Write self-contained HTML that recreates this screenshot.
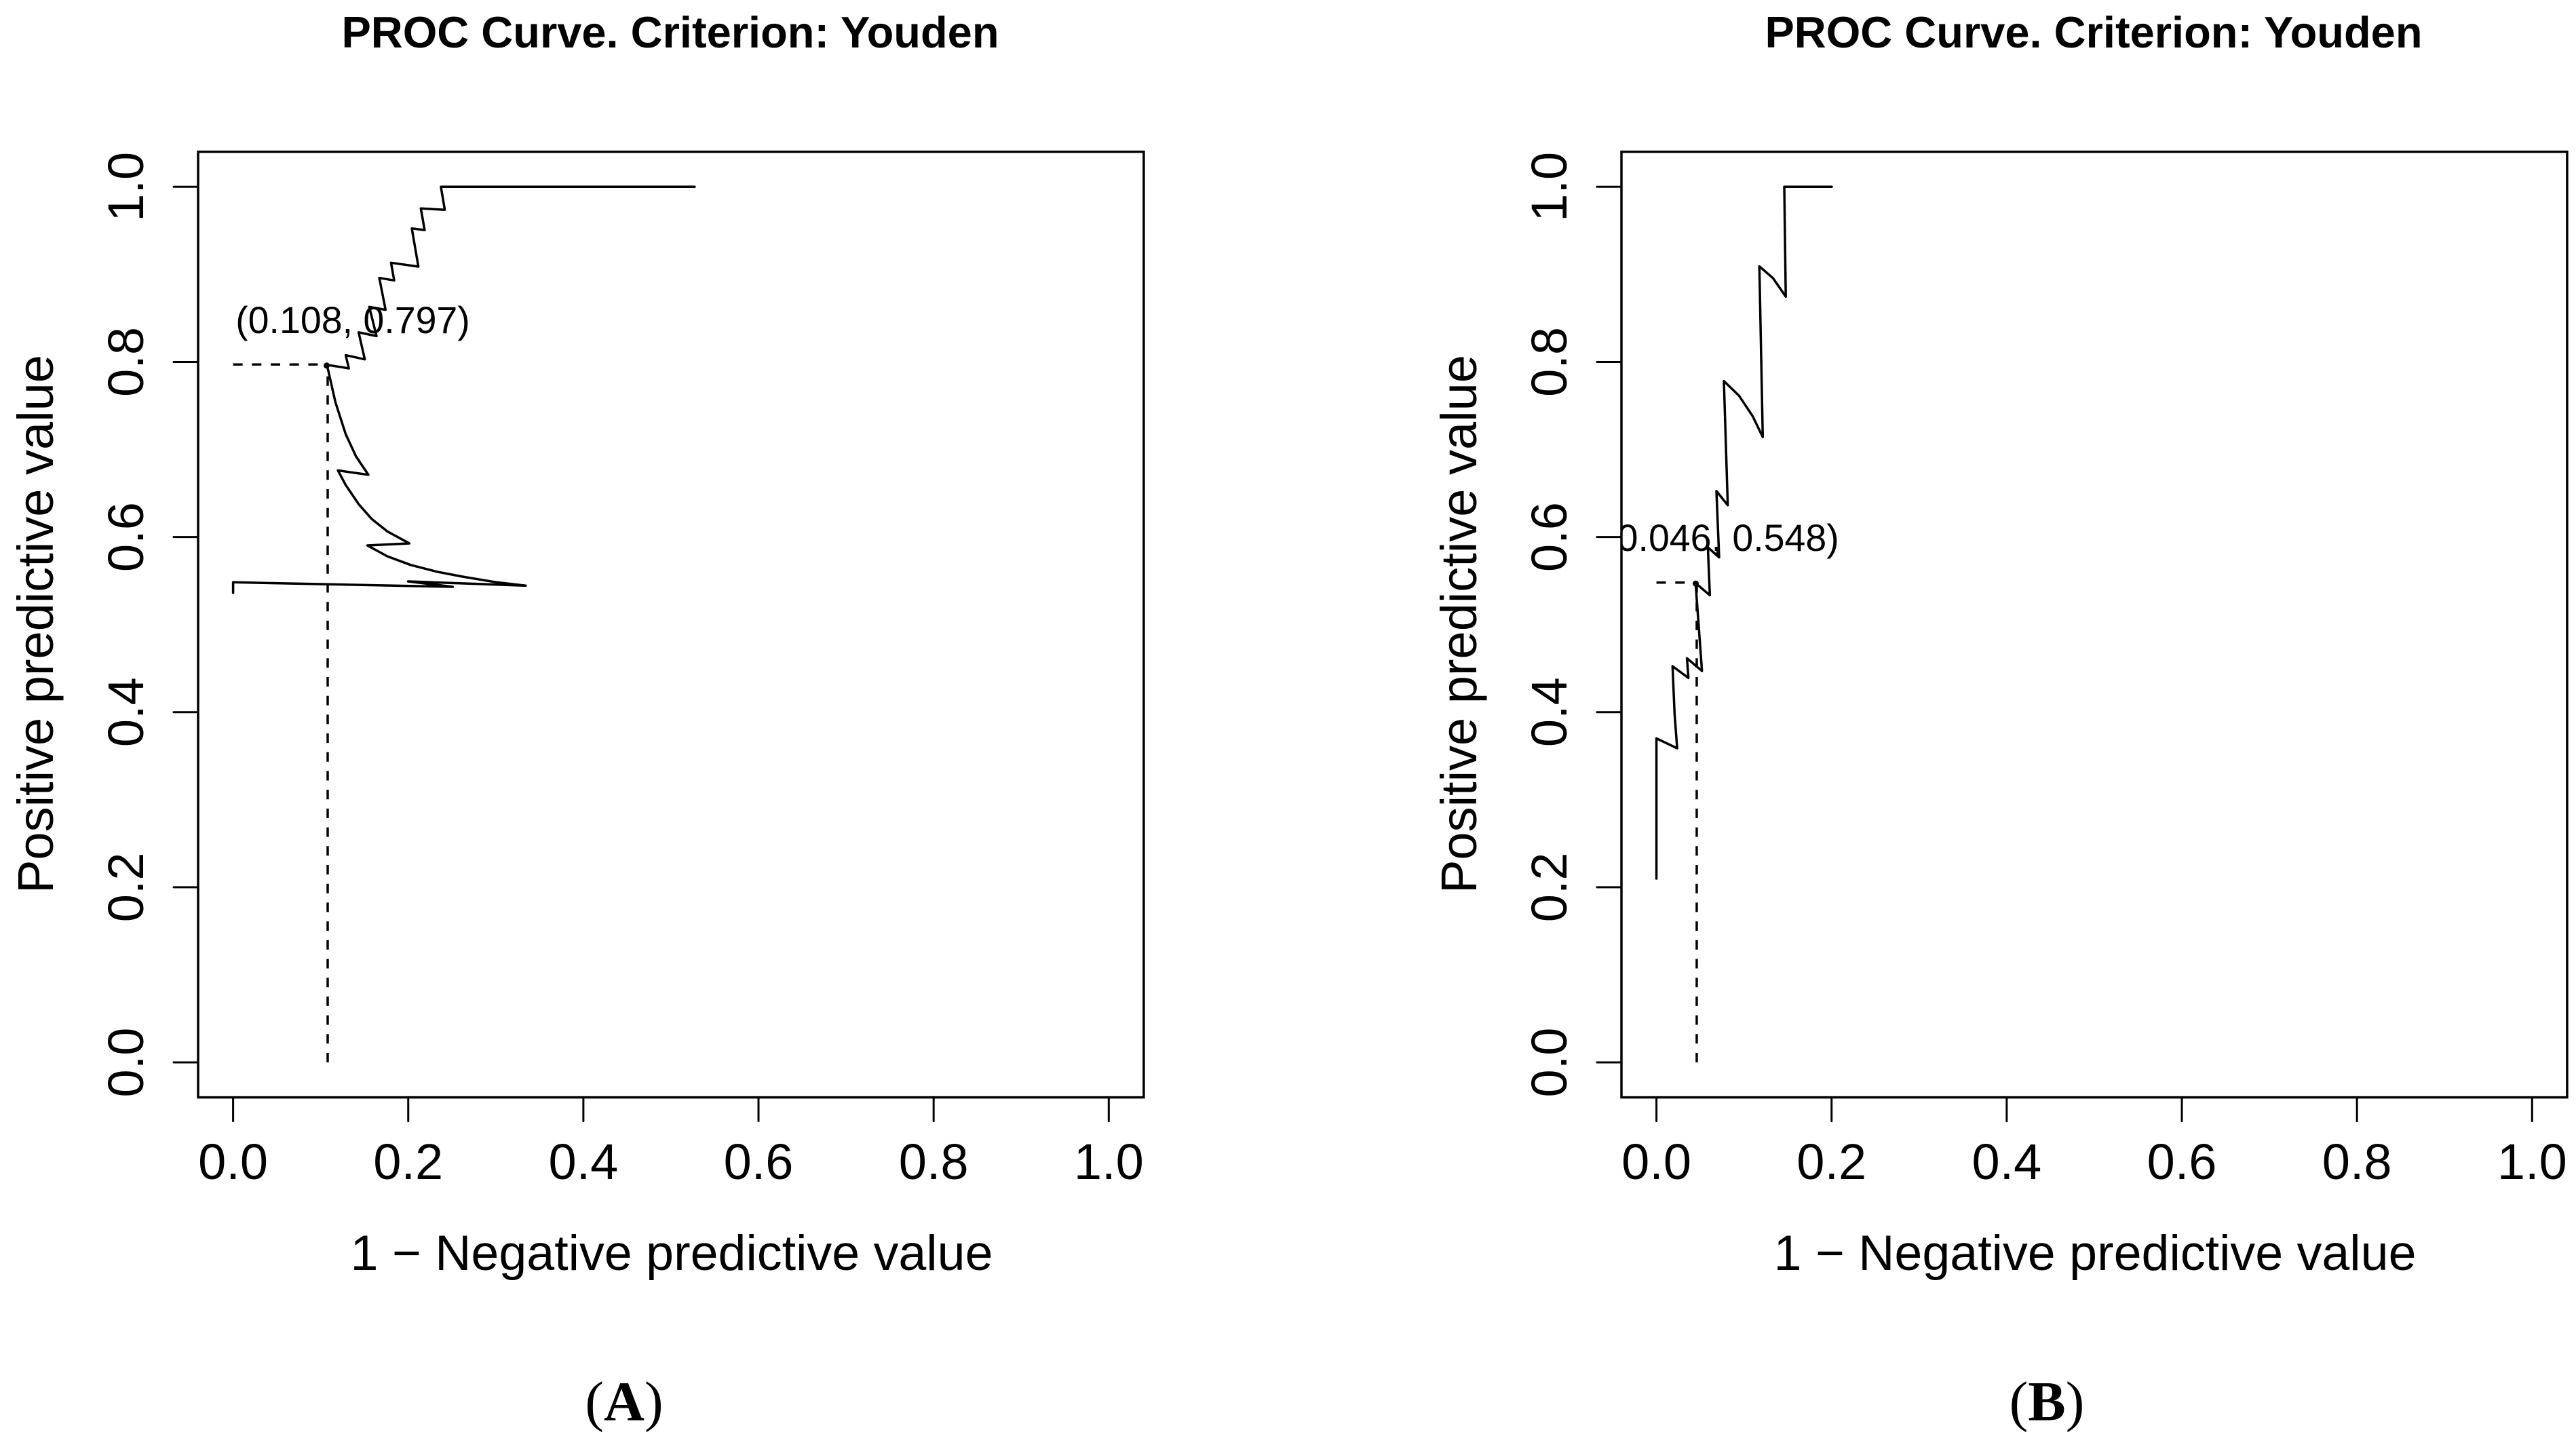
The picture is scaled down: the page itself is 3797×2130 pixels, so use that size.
<!DOCTYPE html>
<html lang="en">
<head>
<meta charset="utf-8">
<title>PROC Curves</title>
<style>
html,body{margin:0;padding:0;background:#fff;}
svg{display:block;}
text{font-family:"Liberation Sans",sans-serif;fill:#000;}
.cap{font-family:"Liberation Serif",serif;font-size:83px;}
</style>
</head>
<body>
<svg id="figure" xmlns="http://www.w3.org/2000/svg" width="3797" height="2130" viewBox="0 0 3797 2130">
  <rect width="3797" height="2130" fill="#fff"/>
  <text class="cap" x="920" y="2093.5" text-anchor="middle">(<tspan font-weight="bold">A</tspan>)</text>
  <text class="cap" x="3017" y="2093.5" text-anchor="middle">(<tspan font-weight="bold">B</tspan>)</text>
</svg>
<script>
var xTickValues = [0, 0.2, 0.4, 0.6, 0.8, 1];
var yTickValues = [0, 0.2, 0.4, 0.6, 0.8, 1];
var xTickLabels = ['0.0', '0.2', '0.4', '0.6', '0.8', '1.0'];
var yTickLabels = ['0.0', '0.2', '0.4', '0.6', '0.8', '1.0'];

var curveAx = [0, 0, .2508, .1998, .3341, .3006, .2620, .2324, .2028, .1761, .1533, .2013, .1761, .1583, .1435, .1286, .1197, .1545, .1405, .1286, .1168, .1088, .1068, .1322, .1286, .1504, .1433, .1638, .1555, .1741, .1670, .1839, .1804, .2116, .2041, .2187, .2144, .2417, .2373, .5271];
var curveAy = [.5362, .5483, .5431, .5493, .5444, .5483, .5547, .5604, .5681, .5780, .5904, .5927, .6064, .6206, .6374, .6593, .6761, .6710, .6919, .7174, .7539, .7897, .7967, .7926, .8076, .8029, .8337, .8295, .8629, .8595, .8959, .8931, .9132, .9088, .9524, .9506, .9752, .9737, 1, 1];
var cutoffAx = 0.108;
var cutoffAy = 0.797;

var curveBx = [0, 0, .0236, .0207, .0184, .0365, .0349, .0520, .0447, .0610, .0587, .0716, .0685, .0814, .0770, .0943, .1098, .1214, .1175, .1330, .1477, .1460, .2002];
var curveBy = [.2100, .3700, .3587, .3982, .4525, .4391, .4615, .4470, .5473, .5335, .5881, .5768, .6524, .6363, .7781, .7614, .7381, .7141, .9091, .8957, .8745, 1, 1];
var cutoffBx = 0.046;
var cutoffBy = 0.548;

var SVG_NS = 'http://www.w3.org/2000/svg';
var root = document.getElementById('figure');

function add(parent, tag, attrs, txt) {
  var el = document.createElementNS(SVG_NS, tag);
  for (var k in attrs) { el.setAttribute(k, attrs[k]); }
  if (txt !== undefined) { el.textContent = txt; }
  parent.appendChild(el);
  return el;
}

function drawPanel(id, plotLeft, xs, ys, cutX, cutY) {
  var unit = 1290.7;
  var plotTop = 223.7;
  var plotSize = 1393.9;
  var yZero = 1566;
  var xZero = plotLeft + 51.6;
  var sx = function (v) { return xZero + v * unit; };
  var sy = function (v) { return yZero - v * unit; };
  var dx = plotLeft - 292;
  var g, el, i;

  g = add(root, 'g', {});
  
  

  var clip = add(g, 'clipPath', { id: 'clip-' + id });
  add(clip, 'rect', { x: plotLeft, y: plotTop, width: plotSize, height: plotSize });

  el = add(g, 'text', { x: 988 + dx, y: 70, 'text-anchor': 'middle', 'font-size': 65, 'font-weight': 'bold' }, 'PROC Curve. Criterion: Youden');
  
  

  el = add(g, 'text', { x: 990 + dx, y: 1872, 'text-anchor': 'middle', 'font-size': 73.6 }, '1 \u2212 Negative predictive value');
  
  

  el = add(g, 'text', { x: 78 + dx, y: 920, 'text-anchor': 'middle', 'font-size': 74, transform: 'rotate(-90 ' + (78 + dx) + ' 920)' }, 'Positive predictive value');
  
  

  for (i = 0; i < xTickValues.length; i++) {
    el = add(g, 'line', { x1: sx(xTickValues[i]), x2: sx(xTickValues[i]), y1: plotTop + plotSize, y2: plotTop + plotSize + 35, stroke: '#000', 'stroke-width': 3, 'stroke-linecap': 'round' });
    
    
    el = add(g, 'text', { x: sx(xTickValues[i]), y: 1738, 'text-anchor': 'middle', 'font-size': 74 }, xTickLabels[i]);
    
    
  }

  for (i = 0; i < yTickValues.length; i++) {
    el = add(g, 'line', { x1: plotLeft - 36, x2: plotLeft, y1: sy(yTickValues[i]), y2: sy(yTickValues[i]), stroke: '#000', 'stroke-width': 3, 'stroke-linecap': 'round' });
    
    
    el = add(g, 'text', { x: 211 + dx, y: sy(yTickValues[i]), 'text-anchor': 'middle', 'font-size': 74, transform: 'rotate(-90 ' + (211 + dx) + ' ' + sy(yTickValues[i]) + ')' }, yTickLabels[i]);
    
    
  }

  el = add(g, 'polyline', { points: sx(cutX) + ',' + sy(0) + ' ' + sx(cutX) + ',' + sy(cutY), fill: 'none', stroke: '#000', 'stroke-width': 3.5, 'stroke-dasharray': '14 13.7' });
  
  

  el = add(g, 'polyline', { points: sx(0) + ',' + sy(cutY) + ' ' + sx(cutX) + ',' + sy(cutY), fill: 'none', stroke: '#000', 'stroke-width': 3.5, 'stroke-dasharray': '14 13.7' });
  
  

  var pts = [];
  for (i = 0; i < xs.length; i++) {
    pts.push(sx(xs[i]).toFixed(1) + ',' + sy(ys[i]).toFixed(1));
  }
  el = add(g, 'polyline', { points: pts.join(' '), fill: 'none', stroke: '#000', 'stroke-width': 3.5, 'stroke-linejoin': 'round', 'stroke-linecap': 'round' });
  
  

  el = add(g, 'circle', { cx: sx(cutX) - 1.5, cy: sy(cutY) + 1.5, r: 4.5, fill: '#000' });
  
  

  el = add(g, 'text', { x: sx(cutX) + 37, y: sy(cutY) - 46.5, 'text-anchor': 'middle', 'font-size': 55.5, 'clip-path': 'url(#clip-' + id + ')' }, '(' + cutX.toFixed(3) + ', ' + cutY.toFixed(3) + ')');
  
  

  el = add(g, 'rect', { x: plotLeft, y: plotTop, width: plotSize, height: plotSize, fill: 'none', stroke: '#000', 'stroke-width': 3.5 });
  
  
}

drawPanel('a', 292, curveAx, curveAy, cutoffAx, cutoffAy);
drawPanel('b', 2390, curveBx, curveBy, cutoffBx, cutoffBy);
</script>
</body>
</html>
